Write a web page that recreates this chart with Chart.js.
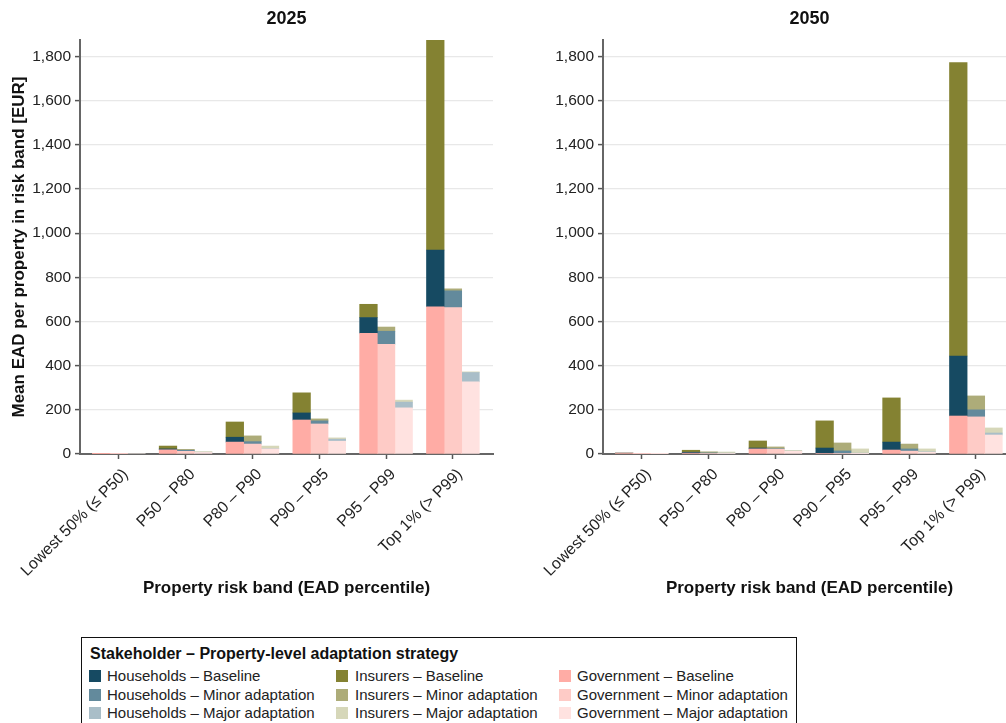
<!DOCTYPE html>
<html>
<head>
<meta charset="utf-8">
<script src="https://cdn.jsdelivr.net/npm/chart.js@4/dist/chart.umd.min.js"></script>
<style>
  html, body { margin: 0; padding: 0; width: 1006px; height: 723px; overflow: hidden; background: #fff; }
  body { position: relative; font-family: "Liberation Sans", Arial, sans-serif; }
  #wrapA { position: absolute; left: 0; top: 0; width: 500px; height: 610px; }
  #wrapB { position: absolute; left: 510px; top: 0; width: 516px; height: 610px; }
  #legendBox { position: absolute; left: 81px; top: 637px; width: 716px; height: 100px; border: 1.5px solid #111; box-sizing: border-box; }
  .lg-title { position: absolute; left: 90px; top: 645px; font-weight: bold; font-size: 16px; line-height: 18px; color: #111; white-space: nowrap; }
  .lg-item { position: absolute; font-size: 15px; line-height: 18px; color: #222; white-space: nowrap; }
  .lg-sw { position: absolute; width: 12px; height: 12px; }
</style>
</head>
<body>
<div id="wrapA"><canvas id="c2025" width="500" height="610"></canvas></div>
<div id="wrapB"><canvas id="c2050" width="516" height="610"></canvas></div>
<div id="legendBox"></div>
<div class="lg-title">Stakeholder – Property-level adaptation strategy</div>
<div id="legendItems"></div>
<script>
// ---- Data ----
const categories = ['Lowest 50% (≤ P50)', 'P50 – P80', 'P80 – P90', 'P90 – P95', 'P95 – P99', 'Top 1% (> P99)'];
const yTickStep = 200;
const yMax = 1875;

// 2025
const gov2025Baseline = [1, 19, 54, 154, 547, 667];
const gov2025Minor    = [1, 12, 45, 136, 497, 663];
const gov2025Major    = [0, 7, 23, 58, 209, 327];
const hh2025Baseline  = [0, 4, 22, 32, 71, 257];
const hh2025Minor     = [0, 5, 11, 14, 59, 76];
const hh2025Major     = [0, 1, 1, 9, 26, 42];
const ins2025Baseline = [1, 13, 69, 91, 60, 951];
const ins2025Minor    = [0, 4, 26, 9, 19, 9];
const ins2025Major    = [0, 3, 12, 6, 9, 3];

// 2050
const gov2050Baseline = [4, 4, 23, 3, 18, 172];
const gov2050Minor    = [1, 3, 22, 3, 13, 168];
const gov2050Major    = [1, 3, 12, 2, 8, 86];
const hh2050Baseline  = [0, 4, 4, 24, 36, 272];
const hh2050Minor     = [0, 2, 2, 11, 10, 32];
const hh2050Major     = [0, 1, 1, 2, 2, 9];
const ins2050Baseline = [0, 9, 32, 123, 200, 1329];
const ins2050Minor    = [0, 5, 8, 36, 22, 63];
const ins2050Major    = [0, 5, 3, 19, 13, 23];

const strategies = ['Baseline', 'Minor adaptation', 'Major adaptation'];
const stakeholders = ['Households', 'Insurers', 'Government'];

// ---- Styles ----
const colors = {
  Households: ['#164a62', '#638a9c', '#a9bec8'],
  Insurers:   ['#848232', '#adac79', '#d6d7b9'],
  Government: ['#ffaca5', '#fecbc6', '#ffe2e0']
};
const FONT = '"Liberation Sans", Arial, sans-serif';

function buildDatasets(year) {
  const src = year === 2025 ? {
    Government: [gov2025Baseline, gov2025Minor, gov2025Major],
    Households: [hh2025Baseline, hh2025Minor, hh2025Major],
    Insurers:   [ins2025Baseline, ins2025Minor, ins2025Major]
  } : {
    Government: [gov2050Baseline, gov2050Minor, gov2050Major],
    Households: [hh2050Baseline, hh2050Minor, hh2050Major],
    Insurers:   [ins2050Baseline, ins2050Minor, ins2050Major]
  };
  const ds = [];
  ['Government', 'Households', 'Insurers'].forEach(sh => {
    strategies.forEach((st, si) => {
      ds.push({
        label: sh + ' – ' + st,
        data: src[sh][si].map((v, i) => ({ x: i, y: v })),
        backgroundColor: colors[sh][si],
        borderWidth: 0,
        stack: st,
        barThickness: 17.6
      });
    });
  });
  return ds;
}

function makeChart(id, year, yWidth, padRight, showYTitle) {
  return new Chart(document.getElementById(id), {
    type: 'bar',
    data: { datasets: buildDatasets(year) },
    options: {
      responsive: false,
      animation: false,
      devicePixelRatio: 1,
      layout: { padding: { left: 0, right: padRight, top: 0, bottom: 0 } },
      plugins: {
        legend: { display: false },
        tooltip: { enabled: false },
        title: {
          display: true, text: String(year), color: '#111',
          fullSize: false,
          font: { family: FONT, size: 18, weight: 'bold' },
          padding: { top: 8, bottom: 10.4 }
        }
      },
      scales: {
        x: {
          type: 'linear',
          min: -0.58, max: 5.6,
          offset: false,
          grid: { display: true, drawOnChartArea: false, drawTicks: true, offset: false, tickLength: 5, tickColor: '#555', tickWidth: 1.5 },
          border: { display: true, color: '#666', width: 2 },
          ticks: {
            stepSize: 1, includeBounds: false, autoSkip: false,
            minRotation: 45, maxRotation: 45,
            labelOffset: 7,
            color: '#222', font: { family: FONT, size: 16 }, padding: 6,
            callback: (v) => (Number.isInteger(v) && categories[v] !== undefined) ? categories[v] : ''
          },
          title: {
            display: true, text: 'Property risk band (EAD percentile)', color: '#111',
            font: { family: FONT, size: 17, weight: 'bold' },
            padding: { top: 4, bottom: 11.8 }
          },
          afterFit: (s) => { s.height = 156; }
        },
        y: {
          stacked: true,
          min: 0, max: yMax,
          grid: { color: '#e8e8e8', lineWidth: 1.2, tickLength: 5, tickColor: '#555', tickWidth: 1.5 },
          border: { display: true, color: '#666', width: 2 },
          ticks: {
            stepSize: yTickStep, includeBounds: false,
            color: '#222', font: { family: FONT, size: 15.5 }, padding: 4,
            callback: (v) => v.toLocaleString('en-US')
          },
          title: {
            display: showYTitle, text: 'Mean EAD per property in risk band [EUR]', color: '#111',
            font: { family: FONT, size: 17, weight: 'bold' },
            padding: { top: 9, bottom: 0 }
          },
          afterFit: (s) => { s.width = yWidth; }
        }
      }
    }
  });
}

makeChart('c2025', 2025, 80, 7, true);
makeChart('c2050', 2050, 93, 10, false);

// ---- HTML legend (3 columns: Households, Insurers, Government) ----
const colSwatchX = [89, 336, 559];
const colTextX = [107, 355, 577];
const rowCenterY = [676, 694.5, 713];
const li = document.getElementById('legendItems');
stakeholders.forEach((sh, c) => {
  strategies.forEach((st, r) => {
    const sw = document.createElement('div');
    sw.className = 'lg-sw';
    sw.style.left = colSwatchX[c] + 'px';
    sw.style.top = (rowCenterY[r] - 6) + 'px';
    sw.style.background = colors[sh][r];
    li.appendChild(sw);
    const t = document.createElement('div');
    t.className = 'lg-item';
    t.style.left = colTextX[c] + 'px';
    t.style.top = (rowCenterY[r] - 9) + 'px';
    t.textContent = sh + ' – ' + st;
    li.appendChild(t);
  });
});
</script>
</body>
</html>
